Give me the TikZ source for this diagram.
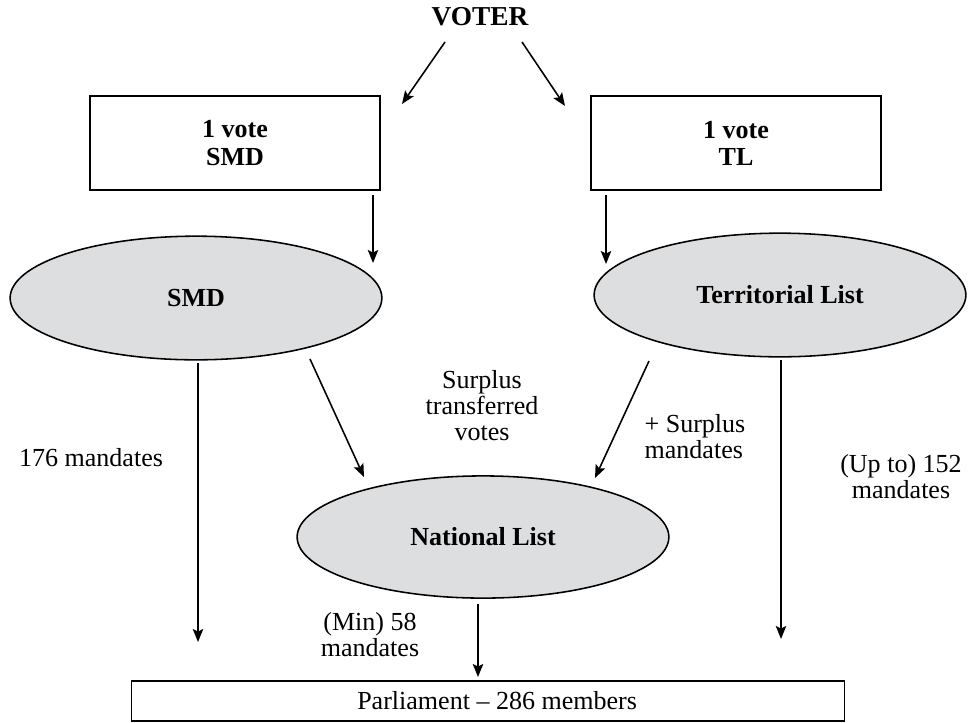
\documentclass[tikz,border=0pt]{standalone}
\usepackage{fontspec}
\setmainfont{Liberation Serif}
\usetikzlibrary{arrows.meta,shapes.geometric}
\definecolor{ovalgray}{RGB}{221,222,223}
\tikzset{
  box/.style={draw, line width=0.7pt, minimum width=3.915cm, minimum height=1.27cm, align=center, font=\bfseries\fontsize{10}{10.4}\selectfont},
  oval/.style={draw, ellipse, fill=ovalgray, line width=0.6pt, minimum width=5.02cm, minimum height=1.67cm, font=\bfseries\fontsize{10}{10.4}\selectfont},
  lbl/.style={align=center, inner sep=0pt, font=\fontsize{10}{10}\selectfont},
  arr/.style={-{Stealth[length=5pt,width=4pt,inset=1pt]}, line width=0.6pt},
}
\begin{document}
\begin{tikzpicture}[x=0.0135cm, y=-0.0135cm]
    \useasboundingbox (0,0) rectangle (971,722);

    \node[font=\bfseries\fontsize{10.5}{12}\selectfont] (V) at (480,17) {VOTER};

    \node[box] (B1) at (235,143) {1 vote\\SMD};
    \node[box] (B2) at (736,143) {1 vote\\TL};

    \node[oval] (E1) at (196,298) {SMD};
    \node[oval] (E2) at (780,295) {Territorial List};
    \node[oval, minimum height=1.65cm] (E3) at (483,537) {National List};

    \node[box, minimum width=9.63cm, minimum height=0.53cm, font=\fontsize{10}{12}\selectfont] (P) at (488,701) {\hspace*{7pt}Parliament -- 286 members};

    \node[lbl] (L1) at (482,406) {Surplus\\transferred\\votes};
    \node[lbl, align=left] (L2) at (695,437) {+ Surplus\\mandates};
    \node[lbl] (L3) at (91,458) {176 mandates};
    \node[lbl] (L4) at (901,477) {(Up to) 152\\mandates};
    \node[lbl] (L5) at (370,635) {(Min) 58\\mandates};

    \coordinate (a1) at (445,42);
    \coordinate (a2) at (402,104);
    \coordinate (a3) at (522,42);
    \coordinate (a4) at (565,106);
    \coordinate (b1) at (373,195);
    \coordinate (b2) at (373,263);
    \coordinate (c1) at (606,195);
    \coordinate (c2) at (606,264);
    \coordinate (d1) at (198,363);
    \coordinate (d2) at (198,642);
    \coordinate (e1) at (310,359);
    \coordinate (e2) at (364,477);
    \coordinate (f1) at (649,361);
    \coordinate (f2) at (595,478);
    \coordinate (g1) at (781,360);
    \coordinate (g2) at (781,639);
    \coordinate (h1) at (478,604);
    \coordinate (h2) at (478,677);

    \draw[arr] (a1) -- (a2);
    \draw[arr] (a3) -- (a4);
    \draw[arr] (b1) -- (b2);
    \draw[arr] (c1) -- (c2);
    \draw[arr] (d1) -- (d2);
    \draw[arr] (e1) -- (e2);
    \draw[arr] (f1) -- (f2);
    \draw[arr] (g1) -- (g2);
    \draw[arr] (h1) -- (h2);

\end{tikzpicture}
\end{document}
